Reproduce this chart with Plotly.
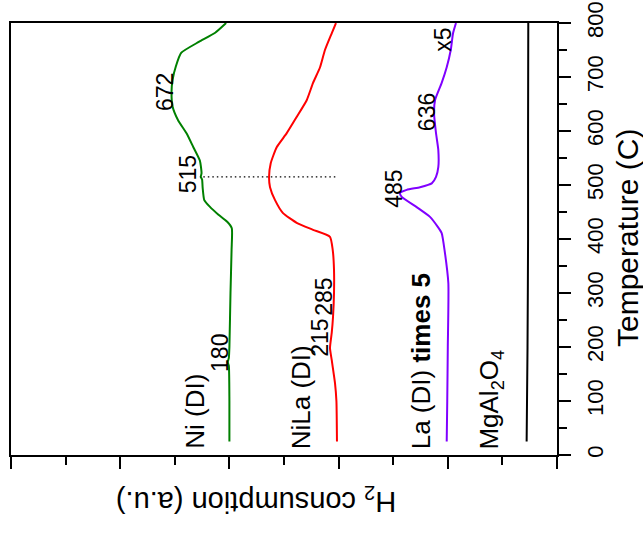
import plotly.graph_objects as go

# ---- data (temperature in C, H2 consumption in arbitrary units incl. offsets) ----
T_ni = [25, 100, 165, 172, 180, 200, 300, 380, 420, 432, 445, 460, 472, 495, 510, 515, 522, 545, 570, 595, 620, 645, 672, 695, 720, 745, 765, 782, 800]
ni = [3.00, 3.00, 3.005, 3.015, 3.005, 3.00, 2.99, 2.98, 2.978, 3.02, 3.10, 3.18, 3.23, 3.245, 3.25, 3.262, 3.255, 3.27, 3.33, 3.39, 3.47, 3.52, 3.53, 3.52, 3.49, 3.44, 3.28, 3.13, 3.03]

T_nila = [25, 100, 133, 176, 198, 226, 256, 300, 343, 380, 404, 417, 430, 448, 472, 496, 515, 540, 570, 596, 626, 657, 689, 718, 750, 781, 800]
nila = [2.015, 2.02, 2.033, 2.063, 2.079, 2.063, 2.051, 2.042, 2.042, 2.054, 2.079, 2.234, 2.384, 2.509, 2.582, 2.628, 2.637, 2.622, 2.567, 2.475, 2.384, 2.292, 2.234, 2.170, 2.125, 2.063, 2.024]

T_la = [25, 100, 200, 318, 380, 411, 422, 441, 459, 478, 485, 491, 496, 503, 515, 533, 565, 596, 633, 657, 689, 718, 750, 781, 800]
la = [1.010, 1.005, 1.000, 0.995, 1.03, 1.056, 1.090, 1.163, 1.285, 1.422, 1.438, 1.376, 1.255, 1.147, 1.108, 1.087, 1.087, 1.108, 1.126, 1.117, 1.056, 1.010, 0.973, 0.952, 0.925]

T_mg = [25, 200, 400, 600, 800]
mg = [0.278, 0.270, 0.265, 0.265, 0.263]

ref_T = [515, 515]
ref_h = [2.03, 3.27]

temp_ticks = [0, 100, 200, 300, 400, 500, 600, 700, 800]

series_names = ["Ni (DI)", "NiLa (DI)", "La (DI) x5", "MgAl2O4"]
series_colors = ["#008000", "#FF0000", "#8000FF", "#000000"]

# label texts
label_texts = ["Ni (DI)", "NiLa (DI)", "La (DI) <b>times 5</b>", "MgAl<sub>2</sub>O<sub>4</sub>"]
label_x = [3.315, 2.344, 1.245, 0.61]
label_T = [7, 7, 7, 7]

peak_texts = ["180", "215", "285", "515", "672", "485", "636", "x5"]
peak_x = [3.086, 2.170, 2.134, 3.379, 3.59, 1.493, 1.190, 1.044]
peak_T = [189, 217, 293, 520, 672, 493, 635, 769]

FONT = "Liberation Sans, Arial, sans-serif"

fig = go.Figure()
for Ts, vals, name, col in zip([T_ni, T_nila, T_la, T_mg], [ni, nila, la, mg], series_names, series_colors):
    fig.add_trace(go.Scatter(x=vals, y=Ts, mode="lines", name=name,
                             line=dict(color=col, width=2, shape="spline", smoothing=0.5)))

fig.add_trace(go.Scatter(x=ref_h, y=ref_T, mode="lines",
                         line=dict(color="black", width=1.2, dash="1.5px,3px"), showlegend=False))

annotations = []
for t, x, y in zip(label_texts, label_x, label_T):
    annotations.append(dict(text=t, x=x, y=y, xref="x", yref="y", textangle=-90,
                            showarrow=False, xanchor="center", yanchor="bottom",
                            font=dict(family=FONT, size=26, color="black")))
for t, x, y in zip(peak_texts, peak_x, peak_T):
    annotations.append(dict(text=t, x=x, y=y, xref="x", yref="y", textangle=-90,
                            showarrow=False, xanchor="center", yanchor="middle",
                            font=dict(family=FONT, size=23, color="black")))
annotations.append(dict(text="Temperature (C)", x=1.128, y=0.502, xref="paper", yref="paper",
                        textangle=-90, showarrow=False, xanchor="center", yanchor="middle",
                        font=dict(family=FONT, size=30, color="black")))
annotations.append(dict(text="H<sub>2</sub> consumption (a.u.)", x=0.449, y=-0.104,
                        xref="paper", yref="paper", textangle=180, showarrow=False,
                        xanchor="center", yanchor="middle",
                        font=dict(family=FONT, size=29, color="black")))

fig.update_layout(
    width=643, height=534,
    margin=dict(l=11, r=86, t=23, b=79, autoexpand=False),
    paper_bgcolor="white", plot_bgcolor="white",
    showlegend=False,
    annotations=annotations,
    xaxis=dict(range=[5, 0], showline=True, linewidth=2, linecolor="black", mirror=True,
               ticks="outside", ticklen=12, tickwidth=2, tickcolor="black", automargin=False,
               tick0=0, dtick=1, showticklabels=False, showgrid=False, zeroline=False,
               minor=dict(dtick=0.5, ticks="outside", ticklen=8, tickwidth=2, tickcolor="black")),
    yaxis=dict(range=[0, 800], side="right", showline=True, linewidth=2, linecolor="black",
               mirror=True, ticks="outside", ticklen=12, tickwidth=2, tickcolor="black",
               automargin=False,
               tickvals=temp_ticks, ticktext=[str(v) for v in temp_ticks], tickangle=-90,
               tickfont=dict(family=FONT, size=22, color="black"), ticklabelstandoff=6,
               showgrid=False, zeroline=False,
               minor=dict(dtick=50, ticks="outside", ticklen=8, tickwidth=2, tickcolor="black")),
)

fig.write_html("out.html")
